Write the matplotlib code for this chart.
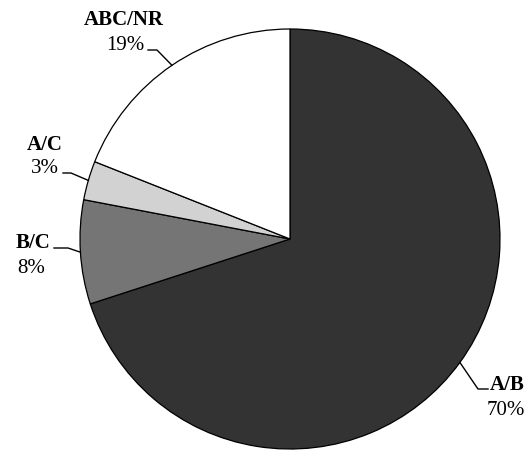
import numpy as np
import matplotlib
matplotlib.use('Agg')
import matplotlib.pyplot as plt

plt.rcParams['font.family'] = ['Liberation Serif', 'DejaVu Serif']

labels = ['A/B', 'B/C', 'A/C', 'ABC/NR']
values = [70, 8, 3, 19]
colors = ['#333333', '#757575', '#d2d2d2', '#ffffff']

# label layout in pixels (name baseline, pct baseline, text centre x, elbow, end of leader)
name_xy = [(507, 390), (33, 248), (45, 150), (124, 25)]
pct_xy = [(506, 415), (31, 273), (45, 173), (125, 50)]
elbows = [(478, 389), (68, 248), (71, 173), (157, 50)]
ends = [(488, 389), (54, 248), (63, 173), (148, 50)]

W, H = 530, 450
CX, CY, R = 290, 239, 210


def px(p):
    return ((p[0] - CX) / R, (CY - p[1]) / R)


fig = plt.figure(figsize=(W / 100, H / 100), dpi=100)
ax = fig.add_axes([0, 0, 1, 1])
wedges, _ = ax.pie(values, colors=colors, startangle=90, counterclock=False,
                   radius=1, center=(0, 0),
                   wedgeprops=dict(edgecolor='black', linewidth=0.9))

for i, w in enumerate(wedges):
    mid = np.deg2rad((w.theta1 + w.theta2) / 2)
    edge = (np.cos(mid), np.sin(mid))
    e = px(elbows[i])
    f = px(ends[i])
    ax.plot([edge[0], e[0], f[0]], [edge[1], e[1], f[1]], color='black', lw=1.0)
    nx, ny = px(name_xy[i])
    ax.text(nx, ny, labels[i], ha='center', va='baseline', fontsize=15,
            fontweight='bold')
    qx, qy = px(pct_xy[i])
    ax.text(qx, qy, '%d%%' % values[i], ha='center', va='baseline', fontsize=15)

ax.set_xlim(-CX / R, (W - CX) / R)
ax.set_ylim(-(H - CY) / R, CY / R)
ax.set_aspect('equal')
ax.axis('off')
fig.savefig('out.png', dpi=100)
